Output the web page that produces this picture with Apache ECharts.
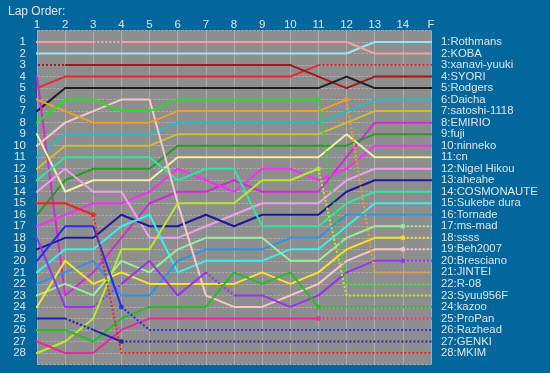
<!DOCTYPE html>
<html><head><meta charset="utf-8">
<script src="https://cdn.jsdelivr.net/npm/echarts@6/dist/echarts.min.js"></script>
<style>html,body{margin:0;padding:0;background:#03669c;}#c{width:550px;height:373px;}</style>
</head><body><div id="c"></div>
<script>
// ---- data ----
const lapLabels = ['1','2','3','4','5','6','7','8','9','10','11','12','13','14','F'];
const finalNames = ['Rothmans','KOBA','xanavi-yuuki','SYORI','Rodgers','Daicha','satoshi-1118','EMIRIO','fuji','ninneko','cn','Nigel Hikou','aheahe','COSMONAUTE','Sukebe dura','Tornade','ms-mad','ssss','Beh2007','Bresciano','JINTEI','R-08','Syuu956F','kazoo','ProPan','Razhead','GENKI','MKIM'];
// position of each driver at columns 1..14,F
const rothmans   = [2,2,2,2,2,2,2,2,2,2,2,2,1,1,1];
const koba       = [1,1,1,1,1,1,1,1,1,1,1,1,2,2,2];
const xanavi     = [5,4,4,4,4,4,4,4,4,4,3,3,3,3,3];
const syori      = [3,3,3,3,3,3,3,3,3,3,4,5,4,4,4];
const rodgers    = [7,5,5,5,5,5,5,5,5,5,5,4,5,5,5];
const daicha     = [11,9,9,9,9,8,8,8,8,8,8,7,6,6,6];
const satoshi    = [12,10,10,10,10,9,9,9,9,9,9,8,7,7,7];
const emirio     = [4,23,21,18,15,14,14,13,14,14,14,11,8,8,8];
const fuji       = [16,13,12,12,12,10,10,10,10,10,10,10,9,9,9];
const ninneko    = [17,16,15,15,14,12,13,14,12,12,13,12,10,10,10];
const cn         = [9,14,13,13,13,11,11,11,11,11,11,9,11,11,11];
const nigel      = [14,12,14,14,18,18,17,16,15,15,15,13,12,12,12];
const aheahe     = [19,18,18,16,17,17,16,17,16,16,16,14,13,13,13];
const cosmonaute = [13,11,11,11,11,13,12,12,17,17,17,15,14,14,14];
const sukebe     = [21,19,19,17,16,21,20,20,20,19,19,17,15,15,15];
const tornade    = [22,21,20,23,23,20,19,19,19,18,18,16,16,16,16];
const msmad      = [23,22,23,20,21,19,18,18,18,20,20,18,17,17,17];
const ssss       = [24,20,22,21,22,22,22,22,21,22,21,19,18,18,18];
const beh2007    = [10,8,7,6,6,15,23,24,24,23,22,20,19,19,19];
const bresciano  = [18,24,24,22,20,23,21,23,23,24,23,21,20,20,20];
const jintei     = [6,7,8,8,8,7,7,7,7,7,7,6,21,21,21];
const r08        = [8,6,6,7,7,6,6,6,6,6,6,22,22,22,22];
const syuu       = [28,27,25,19,19,15,15,15,13,13,12,23,23,23,23];
const kazoo      = [26,26,27,25,24,24,24,21,22,21,24,24,24,24,24];
const propan     = [27,28,28,26,25,25,25,25,25,25,25,25,25,25,25];
const razhead    = [20,17,17,24,26,26,26,26,26,26,26,26,26,26,26];
const genki      = [25,25,26,27,27,27,27,27,27,27,27,27,27,27,27];
const mkim       = [15,15,16,28,28,28,28,28,28,28,28,28,28,28,28];

const driverRows = [rothmans,koba,xanavi,syori,rodgers,daicha,satoshi,emirio,fuji,ninneko,cn,nigel,aheahe,cosmonaute,sukebe,tornade,msmad,ssss,beh2007,bresciano,jintei,r08,syuu,kazoo,propan,razhead,genki,mkim];
const driverColors = ['#96e6ee','#f2a2a6','#e42a2a','#a81616','#1e1e1e','#22bec8','#c8c032','#d42ad4','#20a020','#f630f6','#f0f0a4','#f0a0ec','#1a1a9c','#30e6a2','#34f0f0','#2a96e6','#9aee9a','#f8e424','#f8c8c8','#9a32ee','#f0a024','#22e022','#b4ec28','#22c022','#f0249e','#2a2af0','#2222b0','#f02222'];
// laps (segment start) drawn dotted: 0 = left stub, 15 = right stub
const dottedFrom  = [null,null,11,null,null,null,null,null,null,null,null,null,null,null,null,null,14,14,14,14,12,11,11,11,11,4,4,3];
const dottedExtra = [[],[3],[],[0,1],[],[],[],[],[],[],[],[],[],[],[],[],[],[],[],[3,7],[],[],[],[],[],[],[2],[]];
const dotLaps     = [[],[],[],[],[],[],[],[],[],[],[],[],[],[],[],[],[14],[14],[14],[14],[12],[11],[11],[11],[11],[4],[4],[3]];

// ---- build ----
const X0 = 0.75, XN = 15.32;
const series = [];
driverRows.forEach((pos, i) => {
  const color = driverColors[i];
  const xs = [X0]; for (let l = 1; l <= 15; l++) xs.push(l); xs.push(XN);
  const ys = [pos[0]].concat(pos, [pos[14]]);
  const isDot = k => (dottedFrom[i] !== null && k >= dottedFrom[i]) || dottedExtra[i].includes(k);
  const runs = []; let cur = null;
  for (let k = 0; k <= 15; k++) {
    const d = isDot(k);
    if (!cur || cur.d !== d) { cur = {d, pts: [[xs[k], ys[k]]]}; runs.push(cur); }
    cur.pts.push([xs[k+1], ys[k+1]]);
  }
  runs.forEach(r => series.push({
    type: 'line', data: r.pts, symbol: 'none', clip: false, silent: true, z: 3,
    lineStyle: {color, width: 2, type: r.d ? [2, 2] : 'solid'}
  }));
  if (dotLaps[i].length) series.push({
    type: 'scatter', data: dotLaps[i].map(l => [l, pos[l-1]]), symbolSize: 5, silent: true, z: 4,
    itemStyle: {color}
  });
});

const txt = '#dce6ee';
const font = "'Liberation Sans', Arial, sans-serif";
const chart = echarts.init(document.getElementById('c'), null, {renderer: 'canvas'});
chart.setOption({
  animation: false,
  backgroundColor: '#03669c',
  title: {text: 'Lap Order:', left: 3, top: 1, textStyle: {color: txt, fontSize: 12, fontWeight: 'normal', fontFamily: font}},
  grid: {left: 37, right: 119, top: 30.5, bottom: 8.5, show: true, backgroundColor: '#8e8e8e', borderWidth: 0},
  xAxis: {
    type: 'value', position: 'top', min: 1, max: 15, interval: 1,
    axisLine: {show: false}, axisTick: {show: false},
    axisLabel: {color: txt, fontSize: 11.5, fontFamily: font, margin: 0, formatter: v => lapLabels[v-1] || ''},
    splitLine: {show: true, lineStyle: {color: '#aaaaaa', width: 1}}
  },
  yAxis: [{
    type: 'value', min: 0, max: 29, interval: 1, inverse: true,
    axisLine: {show: false}, axisTick: {show: false},
    axisLabel: {color: txt, fontSize: 11.5, fontFamily: font, margin: 11, formatter: v => (v >= 1 && v <= 28) ? String(v) : ''},
    splitLine: {show: true, lineStyle: {color: '#a8a8a8', width: 1, type: [3, 1]}}
  }, {
    type: 'value', position: 'right', min: 0, max: 29, interval: 1, inverse: true,
    axisLine: {show: false}, axisTick: {show: false}, splitLine: {show: false},
    axisLabel: {color: txt, fontSize: 11.3, fontFamily: font, margin: 10, formatter: v => (v >= 1 && v <= 28) ? v + ':' + finalNames[v-1] : ''}
  }],
  series
});
</script></body></html>
